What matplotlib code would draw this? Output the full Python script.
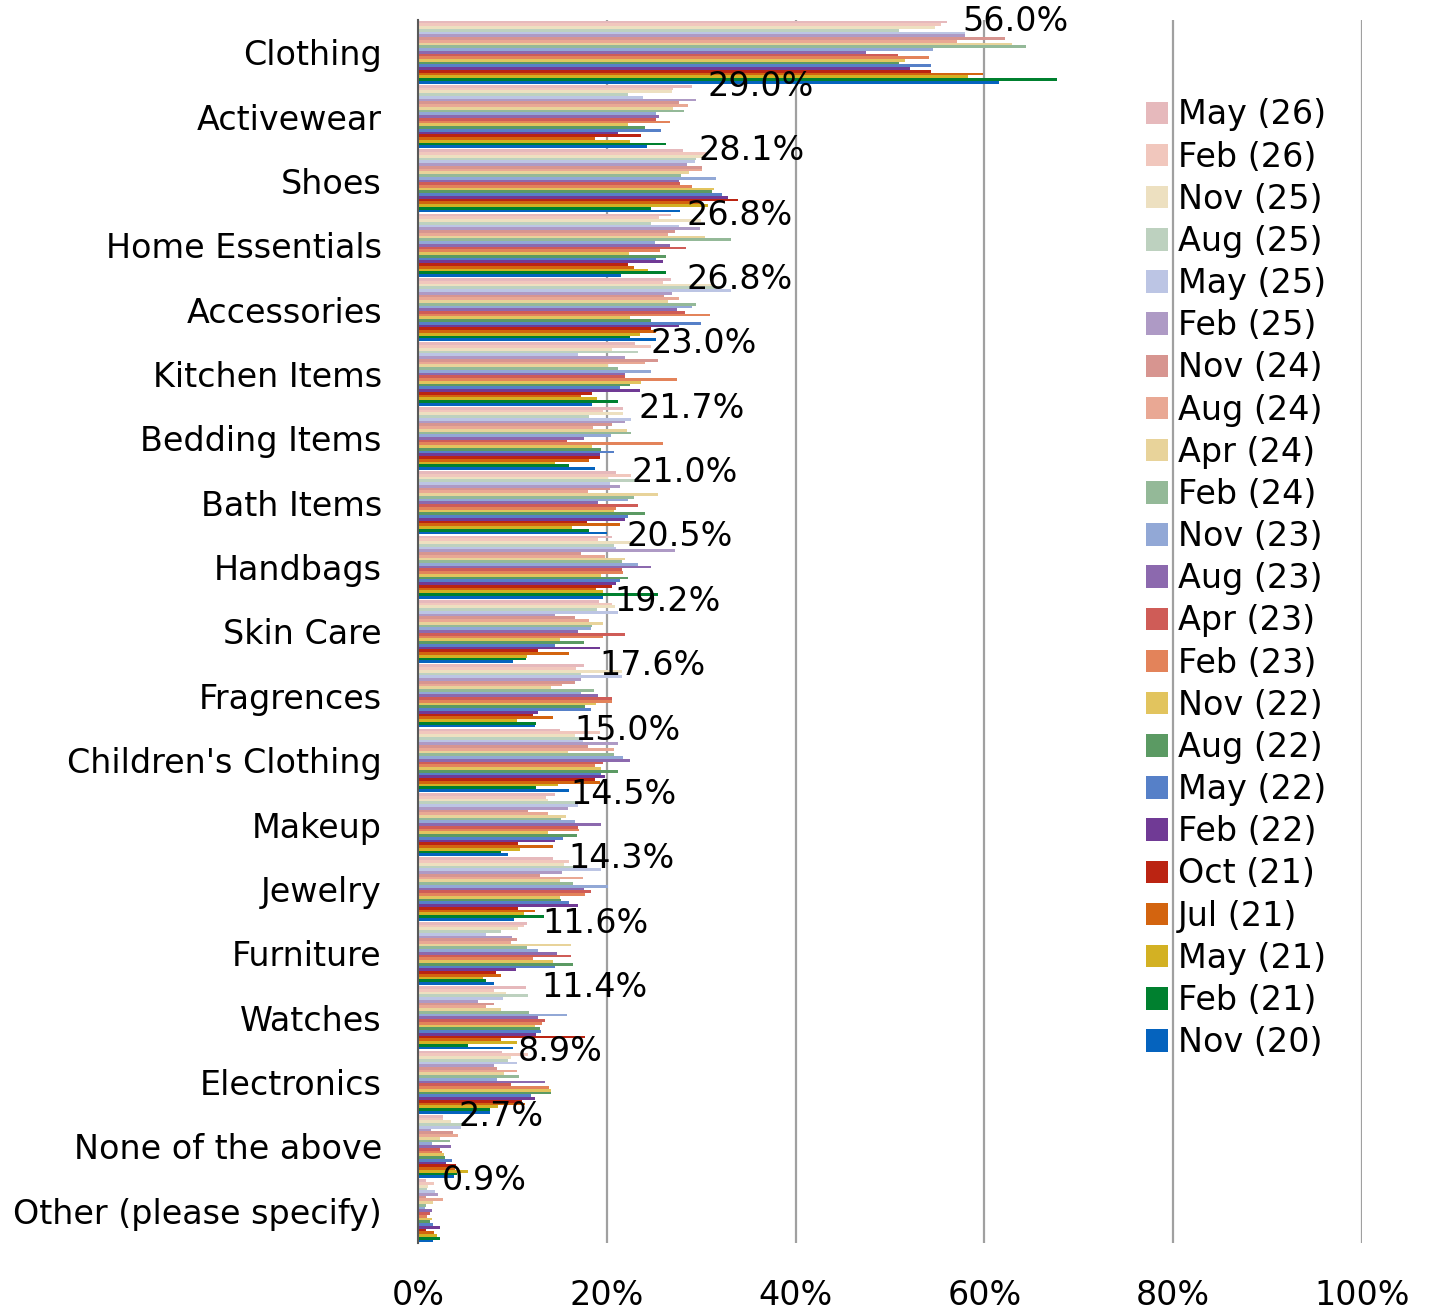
import matplotlib
matplotlib.use("Agg")
import matplotlib.pyplot as plt
from matplotlib.patches import Patch
import numpy as np

categories = ["Clothing", "Activewear", "Shoes", "Home Essentials", "Accessories",
              "Kitchen Items", "Bedding Items", "Bath Items", "Handbags", "Skin Care",
              "Fragrences", "Children's Clothing", "Makeup", "Jewelry", "Furniture",
              "Watches", "Electronics", "None of the above", "Other (please specify)"]

series_names = ["May (26)", "Feb (26)", "Nov (25)", "Aug (25)", "May (25)", "Feb (25)",
                "Nov (24)", "Aug (24)", "Apr (24)", "Feb (24)", "Nov (23)", "Aug (23)",
                "Apr (23)", "Feb (23)", "Nov (22)", "Aug (22)", "May (22)", "Feb (22)",
                "Oct (21)", "Jul (21)", "May (21)", "Feb (21)", "Nov (20)"]

series_colors = ["#E6B9BC", "#F1C7BD", "#EDE0C0", "#BDD1BF", "#BCC5E4", "#AE9AC5",
                 "#D79590", "#E9A894", "#E8D39A", "#94B998", "#92A8D6", "#8C69AE",
                 "#CF5C57", "#E3835A", "#E2C45E", "#5B9A63", "#5680C8", "#703A95",
                 "#BB2412", "#D3640F", "#D3B123", "#00802F", "#0563BE"]

# values per category, in legend order (May 26 ... Nov 20)
clothing = [56.0, 55.4, 54.8, 51.0, 57.9, 57.9, 62.2, 57.1, 62.9, 64.4, 54.6, 47.5,
            50.8, 54.1, 51.6, 51.0, 54.3, 52.1, 54.3, 59.9, 58.3, 67.7, 61.6]
activewear = [29.0, 27.0, 26.9, 22.3, 23.8, 29.4, 27.7, 28.6, 27.0, 28.2, 25.2, 25.5,
              25.2, 26.7, 22.3, 24.0, 25.7, 21.2, 23.6, 18.7, 22.5, 26.3, 24.3]
shoes = [28.1, 30.5, 30.3, 29.5, 29.3, 28.5, 30.1, 30.1, 28.7, 27.9, 31.6, 27.6,
         27.8, 29.0, 31.4, 31.1, 32.2, 32.8, 33.9, 30.0, 30.7, 24.7, 27.8]
home = [26.8, 25.5, 30.0, 24.7, 27.6, 29.9, 27.2, 26.5, 30.4, 33.2, 25.1, 26.7,
        28.4, 25.6, 22.4, 26.3, 25.2, 26.0, 22.2, 22.9, 24.4, 26.3, 21.5]
accessories = [26.8, 26.0, 31.4, 32.0, 33.2, 26.9, 26.1, 27.6, 26.5, 29.5, 29.0, 27.4,
               28.3, 30.9, 22.5, 24.7, 30.0, 27.6, 24.7, 25.2, 23.5, 22.5, 25.2]
kitchen = [23.0, 24.7, 20.6, 23.3, 17.0, 21.9, 25.4, 24.0, 20.1, 21.2, 24.7, 21.9,
           21.9, 27.4, 23.6, 22.5, 21.4, 23.5, 18.4, 17.3, 19.0, 21.2, 18.4]
bedding = [21.7, 19.6, 21.7, 18.1, 22.6, 21.9, 20.5, 18.5, 22.1, 22.6, 20.4, 17.6,
           15.8, 26.0, 18.4, 19.4, 20.8, 19.3, 19.3, 18.1, 14.5, 16.0, 18.7]
bath = [21.0, 22.6, 20.1, 23.3, 20.3, 21.4, 20.3, 18.0, 25.4, 22.9, 22.2, 19.1,
        23.3, 21.0, 20.8, 24.0, 22.2, 21.9, 17.9, 21.4, 16.3, 18.1, 20.0]
handbags = [20.5, 19.1, 22.6, 20.8, 21.0, 27.2, 17.3, 19.8, 21.9, 21.6, 23.3, 24.7,
            21.6, 21.7, 19.4, 22.3, 21.4, 21.0, 20.5, 18.9, 19.6, 25.4, 19.6]
skin_care = [19.2, 20.5, 20.9, 19.0, 21.2, 14.5, 16.6, 18.1, 19.6, 18.4, 18.3, 17.0,
             21.9, 19.6, 15.0, 17.6, 14.5, 19.3, 12.7, 16.0, 11.5, 11.4, 10.1]
fragrences = [17.6, 16.7, 21.6, 17.3, 21.6, 17.3, 16.6, 15.3, 14.1, 18.6, 17.3, 19.1,
              20.6, 20.6, 18.9, 17.7, 18.3, 12.7, 12.2, 14.3, 10.5, 12.5, 12.4]
childrens = [15.0, 19.3, 16.6, 17.1, 17.5, 21.2, 18.0, 20.8, 15.9, 20.8, 21.7, 22.5,
             19.6, 18.7, 19.4, 21.2, 19.4, 19.8, 18.7, 19.3, 14.8, 12.5, 16.0]
makeup = [14.5, 13.6, 13.8, 17.7, 17.0, 15.9, 11.7, 13.8, 15.7, 15.2, 16.6, 19.4,
          17.0, 17.1, 13.8, 16.8, 15.4, 14.5, 10.6, 14.3, 10.8, 8.8, 9.5]
jewelry = [14.3, 16.0, 15.5, 17.3, 19.4, 15.3, 12.9, 17.5, 15.0, 16.4, 20.1, 17.6,
           18.3, 17.7, 15.0, 15.2, 16.0, 17.0, 10.6, 12.4, 11.2, 13.4, 10.2]
furniture = [11.6, 11.2, 10.6, 8.8, 7.2, 10.0, 10.5, 9.9, 16.2, 11.5, 12.7, 14.7,
             16.2, 12.2, 14.3, 16.4, 14.5, 10.4, 8.3, 8.8, 6.9, 7.2, 8.1]
watches = [11.4, 8.1, 9.3, 11.7, 9.0, 6.4, 8.1, 7.2, 8.8, 11.8, 15.8, 12.7,
           13.5, 13.1, 12.4, 12.9, 13.0, 12.5, 17.7, 8.8, 10.5, 5.3, 10.1]
electronics = [8.9, 11.7, 9.9, 9.5, 10.5, 8.1, 8.4, 10.5, 9.1, 10.7, 8.4, 13.5,
               9.9, 13.9, 14.1, 14.1, 12.0, 12.4, 11.0, 11.3, 8.5, 7.6, 7.6]
none_above = [2.7, 2.6, 3.5, 5.1, 4.6, 1.4, 3.7, 4.2, 2.3, 3.4, 1.5, 3.5,
              2.3, 2.5, 2.8, 2.9, 3.6, 3.0, 4.0, 3.9, 5.3, 4.1, 3.8]
other = [0.9, 1.7, 1.1, 1.0, 1.8, 2.1, 0.9, 2.7, 1.6, 0.9, 0.7, 1.5,
         1.3, 1.0, 1.5, 1.3, 1.6, 2.3, 0.8, 1.7, 2.0, 2.3, 1.6]

rows = [clothing, activewear, shoes, home, accessories, kitchen, bedding, bath,
        handbags, skin_care, fragrences, childrens, makeup, jewelry, furniture,
        watches, electronics, none_above, other]

plt.rcParams['font.family'] = 'DejaVu Sans'
plt.rcParams['font.size'] = 24

fig = plt.figure(figsize=(14.29, 13.13), dpi=100)
ax = fig.add_axes([0.2925, 0.0533, 0.6606, 0.9315])

n_series = len(series_names)
group_h = 0.98
bar_h = group_h / n_series
y_base = np.arange(len(categories))

for k in range(n_series):
    vals = [row[k] for row in rows]
    offs = -group_h / 2 + (k + 0.5) * bar_h
    ax.barh(y_base + offs, vals, height=bar_h, color=series_colors[k],
            linewidth=0, zorder=2)
    if k == 0:
        for i, v in enumerate(vals):
            ax.annotate(f"{v:.1f}%", (v, y_base[i] + offs), xytext=(11, 0),
                        textcoords="offset points", va="center", ha="left",
                        fontsize=24, zorder=4)

ax.set_xlim(0, 100)
ax.set_ylim(len(categories) - 0.5, -0.5)
ax.set_xticks(range(0, 101, 20))
ax.set_xticklabels([f"{t}%" for t in range(0, 101, 20)])
ax.set_yticks(y_base)
ax.set_yticklabels(categories)
ax.tick_params(axis="both", length=0, labelsize=24)
ax.tick_params(axis="y", pad=26)
ax.tick_params(axis="x", pad=26)

ax.grid(axis="x", color="#A0A0A0", linewidth=1.6, zorder=1)
ax.set_axisbelow(True)
for s in ["top", "right", "bottom"]:
    ax.spines[s].set_visible(False)
ax.spines["left"].set_color("#595959")
ax.spines["left"].set_linewidth(1.5)
ax.spines["left"].set_zorder(3)

handles = [Patch(facecolor=c, edgecolor="none") for c in series_colors]
fig.legend(handles, series_names, loc="upper left", bbox_to_anchor=(0.802, 0.925),
           frameon=False, fontsize=24, borderpad=0, borderaxespad=0,
           handlelength=0.66, handleheight=0.66, handletextpad=0.3,
           labelspacing=0.275)

fig.savefig("out.png", dpi=100)
